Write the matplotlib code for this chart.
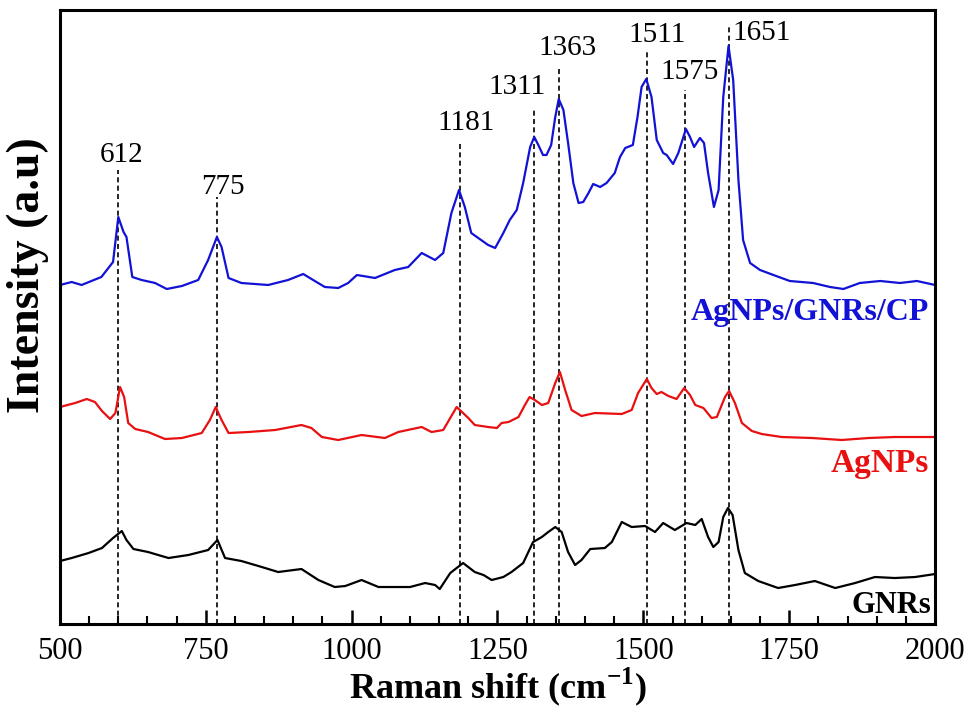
import numpy as np
import matplotlib
matplotlib.use("Agg")
import matplotlib.pyplot as plt
from matplotlib.ticker import MultipleLocator

cp_shift = [500, 520, 537, 571, 591, 600, 609, 614, 624, 640, 663, 683, 709, 737, 754, 769, 777, 789,
            811, 857, 891, 917, 934, 954, 977, 994, 1009, 1040, 1074, 1097, 1120, 1143, 1157, 1171,
            1184, 1194, 1205, 1217, 1234, 1246, 1260, 1271, 1283, 1294, 1306, 1313, 1320, 1328, 1334,
            1342, 1349, 1355, 1363, 1371, 1380, 1389, 1397, 1406, 1414, 1426, 1437, 1451, 1460, 1469,
            1482, 1490, 1497, 1505, 1514, 1523, 1534, 1540, 1551, 1560, 1567, 1573, 1580, 1587, 1597,
            1604, 1611, 1621, 1629, 1637, 1646, 1654, 1663, 1671, 1683, 1700, 1723, 1751, 1791, 1820,
            1843, 1871, 1906, 1940, 1969, 2000]
cp_int = [339, 342, 339, 347, 362, 407, 392, 387, 347, 344, 341, 335, 338, 344, 364, 387, 377, 346,
          341, 339, 344, 350, 344, 337, 336, 341, 349, 346, 354, 357, 371, 364, 371, 411,
          434, 417, 391, 386, 379, 376, 391, 404, 414, 441, 477, 487, 479, 469, 469,
          479, 507, 525, 514, 481, 441, 421, 422, 431, 440, 437, 441, 451, 467, 476,
          479, 507, 537, 545, 527, 484, 471, 469, 460, 471, 484, 495, 487, 477, 486,
          481, 451, 417, 434, 527, 578, 544, 444, 384, 361, 354, 349, 343, 341, 337,
          335, 341, 343, 341, 343, 339]

ag_shift = [500, 526, 546, 560, 572, 586, 595, 603, 610, 617, 629, 651, 680, 709, 743, 757, 767, 777,
            789, 823, 869, 914, 931, 949, 977, 1017, 1057, 1080, 1120, 1137, 1157, 1169, 1180, 1200,
            1211, 1234, 1249, 1257, 1269, 1286, 1297, 1305, 1314, 1326, 1337, 1349, 1357, 1366, 1377,
            1394, 1417, 1463, 1480, 1491, 1506, 1514, 1523, 1531, 1543, 1557, 1570, 1580, 1589, 1603,
            1617, 1626, 1640, 1647, 1657, 1669, 1686, 1703, 1737, 1789, 1840, 1886, 1931, 2000]
ag_int = [217, 221, 225, 222, 213, 205, 211, 237, 227, 201, 195, 192, 185, 186, 191, 204, 217, 204,
          191, 192, 194, 199, 196, 187, 184, 189, 186, 192, 197, 192, 194, 206, 217, 206,
          199, 197, 196, 201, 202, 207, 219, 227, 224, 219, 221, 241, 252, 234, 214,
          208, 211, 210, 214, 231, 245, 236, 230, 232, 228, 225, 236, 229, 219, 216,
          206, 207, 227, 233, 221, 201, 193, 190, 187, 186, 184, 186, 187, 187]

gnr_shift = [500, 520, 549, 572, 591, 606, 614, 626, 651, 686, 720, 754, 770, 783, 811, 846, 874, 914,
             943, 971, 989, 1017, 1046, 1074, 1100, 1126, 1143, 1151, 1169, 1191, 1211, 1226, 1240,
             1260, 1274, 1294, 1311, 1326, 1337, 1349, 1360, 1371, 1383, 1394, 1409, 1434, 1446, 1463,
             1480, 1503, 1520, 1534, 1554, 1574, 1589, 1600, 1611, 1620, 1629, 1637, 1645, 1653, 1663,
             1674, 1697, 1731, 1760, 1794, 1829, 1863, 1897, 1931, 1966, 2000]
gnr_int = [63, 66, 71, 76, 86, 93, 84, 75, 72, 66, 69, 74, 84, 66, 63, 57, 52, 55,
           44, 37, 38, 44, 37, 37, 37, 41, 39, 35, 51, 61, 52, 49, 44,
           47, 52, 61, 82, 87, 92, 97, 92, 72, 59, 64, 75, 76, 82, 102,
           97, 98, 92, 101, 94, 101, 99, 105, 87, 77, 82, 107, 116, 109, 74,
           51, 43, 36, 39, 43, 36, 41, 47, 46, 47, 50]

# marked peaks: where the dashed line sits, how tall it is, and its label
peak_pos = [600, 769, 1185, 1313, 1356, 1506, 1571, 1646]
peak_top = [454, 427, 481, 514, 556, 572, 534, 597]
peak_labels = ["612", "775", "1181", "1311", "1363", "1511", "1575", "1651"]
label_x = [606, 779, 1197, 1283, 1370, 1523, 1580, 1653]
label_y = [469, 437, 501, 537, 576, 589, 552, 591]

plt.rcParams["font.family"] = ["Liberation Serif", "DejaVu Serif"]
plt.rcParams["mathtext.fontset"] = "custom"
plt.rcParams["mathtext.rm"] = "Liberation Serif"
plt.rcParams["mathtext.bf"] = "Liberation Serif:bold"

fig = plt.figure(figsize=(9.75, 7.13), dpi=100)
ax = fig.add_axes([0.0615, 0.1248, 0.8975, 0.8612])

for x, top in zip(peak_pos, peak_top):
    ax.plot([x, x], [0, top], color="black", lw=1.2, ls=(0, (3, 2)), zorder=1)
for lx, ly, txt in zip(label_x, label_y, peak_labels):
    ha = "left" if txt == "1651" else "center"
    ax.text(lx, ly, txt, fontsize=21, ha=ha, va="center")

ax.plot(cp_shift, cp_int, color="#1212d6", lw=1.6, zorder=2)
ax.plot(ag_shift, ag_int, color="#e81010", lw=1.6, zorder=2)
ax.plot(gnr_shift, gnr_int, color="black", lw=1.6, zorder=2)

ax.text(1990, 311, "AgNPs/GNRs/CP", color="#1212d6", fontsize=23, fontweight="bold", ha="right", va="center")
ax.text(1990, 161, "AgNPs", color="#e81010", fontsize=24, fontweight="bold", ha="right", va="center")
ax.text(1993, 19, "GNRs", color="black", fontsize=22, fontweight="bold", ha="right", va="center")

ax.set_xlim(500, 2000)
ax.set_ylim(0, 614)
ax.xaxis.set_major_locator(MultipleLocator(250))
ax.xaxis.set_minor_locator(MultipleLocator(50))
ax.tick_params(axis="x", which="major", direction="in", length=10, width=1.8, labelsize=22, pad=9)
ax.tick_params(axis="x", which="minor", direction="in", length=6, width=1.5)
ax.set_yticks([])
for sp in ax.spines.values():
    sp.set_linewidth(2.2)

ax.set_xlabel("Raman shift (cm$^{\\mathbf{-1}}$)", fontsize=26, fontweight="bold", labelpad=0)
ax.set_ylabel("Intensity (a.u)", fontsize=33, fontweight="bold")
ax.yaxis.set_label_coords(-0.013, 0.568)

fig.savefig("out.png", dpi=100)
